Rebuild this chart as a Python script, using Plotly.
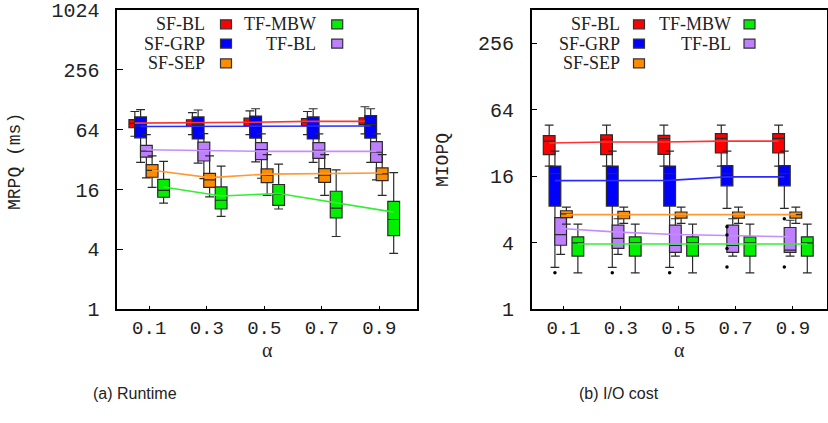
import plotly.graph_objects as go

# ---------------- data ----------------
ALPHA = [0.1, 0.3, 0.5, 0.7, 0.9]
ALPHA_LABELS = ["0.1", "0.3", "0.5", "0.7", "0.9"]
SERIES = ["SF-BL", "SF-GRP", "SF-SEP", "TF-MBW", "TF-BL"]

# (a) Runtime, MRPQ (ms)
RT_SF_BL = dict(lo=[55, 57, 57, 57, 58], q1=[67, 69, 70.6, 70.6, 72], med=[74, 75, 76, 76, 77],
                q3=[81, 80.6, 83.6, 83, 84.4], hi=[97.6, 95, 99, 97.6, 109], mean=[74.6, 75, 76, 77.6, 77.6])
RT_SF_GRP = dict(lo=[30, 29.5, 30.4, 30, 30], q1=[53, 51.6, 52.7, 51.6, 52.7], med=[70, 72, 70.6, 70.6, 72],
                 q3=[86, 86, 87.7, 86, 88.6], hi=[102, 101, 104, 104, 104], mean=[69, 69, 69, 69, 69.7])
RT_SF_SEP = dict(lo=[16.8, 13.5, 14, 14, 14], q1=[21.3, 16.8, 18.8, 18.9, 19.7], med=[25, 20, 22.3, 22.3, 23],
                 q3=[28.5, 23.3, 25.8, 26, 26.4], hi=[35, 35, 36, 36, 36], mean=[25, 21.1, 22.9, 23.1, 23.5])
RT_TF_MBW = dict(lo=[11.7, 8.6, 10.2, 5.4, 3.65], q1=[13.4, 10.2, 11.1, 8.3, 5.5], med=[15.7, 12.5, 14.3, 10.4, 8],
                 q3=[20.3, 17, 18, 15.4, 12.2], hi=[30.8, 27.6, 28.9, 25.2, 23.7], mean=[17, 13.8, 14.6, 11.7, 9.5])
RT_TF_BL = dict(lo=[21, 20.6, 20.8, 21, 20], q1=[34, 31, 32, 32.9, 30], med=[39, 40, 40.3, 39.7, 38],
                q3=[44.5, 48, 47.4, 47.4, 48.5], hi=[57, 58.6, 58, 58, 58], mean=[40.3, 39.4, 38.8, 38.8, 38.8])

# (b) I/O cost, MIOPQ
IO_SF_BL = dict(lo=[19.8, 19.8, 19.8, 19.8, 19.8], q1=[25.1, 25.1, 25.3, 26, 26], med=[33.3, 34.5, 35, 35.3, 35.3],
                q3=[37.3, 38, 37.5, 38.9, 38.9], hi=[46.5, 46.5, 46.5, 46.5, 46.5], mean=[32, 32.7, 32.7, 33.3, 33.3])
IO_SF_GRP = dict(lo=[2.4, 2.4, 2.4, 8.2, 8.2], q1=[8.6, 8.6, 8.6, 13.1, 13.1], med=[16.9, 16.9, 16.9, 16.9, 16.9],
                 q3=[19.8, 19.8, 19.8, 20, 20], hi=[27, 27, 27, 27, 27], mean=[14.6, 14.7, 14.7, 15.8, 15.8])
IO_SF_SEP = dict(lo=[5.9, 6.0, 6.0, 6.0, 6.0], q1=[6.77, 6.6, 6.7, 6.7, 6.7], med=[7.3, 7.2, 7.2, 7.2, 7.2],
                 q3=[7.8, 7.7, 7.6, 7.6, 7.6], hi=[8.4, 8.4, 8.4, 8.4, 8.4], mean=[7.2, 7.2, 7.2, 7.2, 7.2])
IO_TF_MBW = dict(lo=[2.14, 2.14, 2.14, 2.14, 2.14], q1=[3.03, 3.03, 3.03, 3.03, 3.03], med=[4.0, 4.0, 4.0, 4.0, 4.0],
                 q3=[4.53, 4.53, 4.53, 4.53, 4.53], hi=[5.9, 5.9, 5.9, 5.9, 5.9], mean=[3.9, 3.9, 3.9, 3.9, 3.9])
IO_TF_BL = dict(lo=[3.14, 3.14, 3.03, 3.03, 3.03], q1=[3.8, 3.56, 3.27, 3.27, 3.27], med=[4.75, 4.38, 3.78, 3.78, 3.43],
                q3=[6.77, 5.78, 5.78, 5.78, 5.5], hi=[6.6, 6.6, 6.6, 6.6, 6.4], mean=[5.39, 5.0, 4.76, 4.66, 4.53])
# outliers of SF-GRP (I/O cost)
IO_GRP_OUT_ALPHA = [0.1, 0.3, 0.5, 0.7, 0.7, 0.7, 0.7, 0.9, 0.9]
IO_GRP_OUT_VAL = [2.14, 2.14, 2.14, 5.6, 4.7, 3.55, 2.42, 6.6, 2.42]

Y1_TICKS = [1, 4, 16, 64, 256, 1024]
Y2_TICKS = [1, 4, 16, 64, 256]

# ---------------- style ----------------
FILL = {"SF-BL": "#ff0000", "SF-GRP": "#0000ff", "SF-SEP": "#ff8c00", "TF-MBW": "#00f000", "TF-BL": "#bf80ff"}
LINEC = {"SF-BL": "#ff3333", "SF-GRP": "#2a2aff", "SF-SEP": "#ff9a33", "TF-MBW": "#33ee33", "TF-BL": "#c58cff"}
OFFSET = {"SF-BL": -0.05, "SF-GRP": -0.03, "TF-BL": -0.01, "SF-SEP": 0.01, "TF-MBW": 0.05}
DRAW_ORDER = ["SF-BL", "SF-GRP", "TF-BL", "SF-SEP", "TF-MBW"]
BOXW = 0.041

RT = {"SF-BL": RT_SF_BL, "SF-GRP": RT_SF_GRP, "SF-SEP": RT_SF_SEP, "TF-MBW": RT_TF_MBW, "TF-BL": RT_TF_BL}
IO = {"SF-BL": IO_SF_BL, "SF-GRP": IO_SF_GRP, "SF-SEP": IO_SF_SEP, "TF-MBW": IO_TF_MBW, "TF-BL": IO_TF_BL}

W, H = 828, 423
fig = go.Figure()


def add_panel(data, xa, ya):
    for s in DRAW_ORDER:
        d = data[s]
        xs = [a + OFFSET[s] for a in ALPHA]
        fig.add_trace(go.Box(
            x=xs, q1=d["q1"], median=d["med"], q3=d["q3"],
            lowerfence=d["lo"], upperfence=d["hi"],
            width=BOXW, whiskerwidth=0.75, fillcolor=FILL[s],
            line=dict(color="#2a2a2a", width=1.2), boxpoints=False,
            xaxis=xa, yaxis=ya, showlegend=False, hoverinfo="skip"))
    for s in DRAW_ORDER:
        d = data[s]
        xs = [a + OFFSET[s] for a in ALPHA]
        fig.add_trace(go.Scatter(
            x=xs, y=d["mean"], mode="lines", line=dict(color=LINEC[s], width=1.6),
            xaxis=xa, yaxis=ya, showlegend=False, hoverinfo="skip"))


add_panel(RT, "x", "y")
add_panel(IO, "x2", "y2")
fig.add_trace(go.Scatter(
    x=[a + OFFSET["SF-GRP"] for a in IO_GRP_OUT_ALPHA], y=IO_GRP_OUT_VAL, mode="markers",
    marker=dict(color="black", size=3.5), xaxis="x2", yaxis="y2", showlegend=False, hoverinfo="skip"))

TICKFONT = dict(family="Liberation Mono", size=19, color="#222")


def xaxis_cfg(dom, rng):
    return dict(domain=dom, range=rng, tickvals=ALPHA, ticktext=ALPHA_LABELS, ticks="inside", ticklen=4,
                tickcolor="black", showline=True, linecolor="black", linewidth=1.5, mirror=True,
                showgrid=False, zeroline=False, tickfont=TICKFONT, automargin=False)


def yaxis_cfg(dom, rng, ticks, anchor):
    return dict(domain=dom, type="log", range=rng, tickvals=ticks, ticktext=[str(t) for t in ticks],
                ticks="inside", ticklen=6, tickcolor="black", showline=True, linecolor="black",
                linewidth=1.5, mirror=True, showgrid=False, zeroline=False,
                tickfont=dict(family="Liberation Mono", size=20, color="#222"),
                ticklabelstandoff=12, anchor=anchor, automargin=False)


YDOM = [1 - 309.3 / H, 1 - 10 / H]
X1DOM = [117.3 / W, 416.7 / W]
X2DOM = [531.7 / W, 826.5 / W]

fig.update_layout(
    width=W, height=H, margin=dict(l=0, r=0, t=0, b=0, pad=0, autoexpand=False),
    paper_bgcolor="white", plot_bgcolor="white", showlegend=False,
    boxmode="overlay",
    xaxis=xaxis_cfg(X1DOM, [-0.011, 1.03]) | dict(anchor="y"),
    yaxis=yaxis_cfg(YDOM, [0, 3.0103], Y1_TICKS, "x"),
    xaxis2=xaxis_cfg(X2DOM, [-0.011, 1.017]) | dict(anchor="y2"),
    yaxis2=yaxis_cfg(YDOM, [0, 2.70927], Y2_TICKS, "x2"),
)

ann = []
shapes = []
SERIF = "Liberation Serif"


def label(text, x, y, size, family, angle=0, xanchor="center"):
    ann.append(dict(text=text, x=x / W, y=1 - y / H, xref="paper", yref="paper", textangle=angle,
                    xanchor=xanchor, yanchor="middle", showarrow=False,
                    font=dict(family=family, size=size, color="#222")))


# axis titles
label("MRPQ (ms)", 15, 162, 18, "Liberation Mono", angle=-90)
label("MIOPQ", 443, 160, 18, "Liberation Mono", angle=-90)
label("α", (117.3 + 416.7) / 2, 350, 20, SERIF)
label("α", (531.7 + 826.5) / 2, 350, 20, SERIF)
label("(a) Runtime", 135, 393, 16, "Liberation Sans")
label("(b) I/O cost", 619, 393, 16, "Liberation Sans")

# manual gnuplot-style legends (text, then swatch)
LEG_LAYOUT = [("SF-BL", 0, 0), ("SF-GRP", 0, 1), ("SF-SEP", 0, 2), ("TF-MBW", 1, 0), ("TF-BL", 1, 1)]
ROWS_Y = [24.3, 43.6, 63.3]
for col_text, col_box in [((206.7, 318.3), (220.5, 331.7)), ((621.7, 732.7), (633.5, 744.0))]:
    for name, c, r in LEG_LAYOUT:
        yc = ROWS_Y[r]
        label(name, col_text[c], yc, 18, SERIF, xanchor="right")
        x0 = col_box[c]
        shapes.append(dict(type="rect", xref="paper", yref="paper", x0=x0 / W, x1=(x0 + 11) / W,
                           y0=1 - (yc + 4.5) / H, y1=1 - (yc - 4.5) / H, fillcolor=FILL[name],
                           line=dict(color="#333", width=1.2)))

fig.update_layout(annotations=ann, shapes=shapes)
fig.write_html("out.html")
